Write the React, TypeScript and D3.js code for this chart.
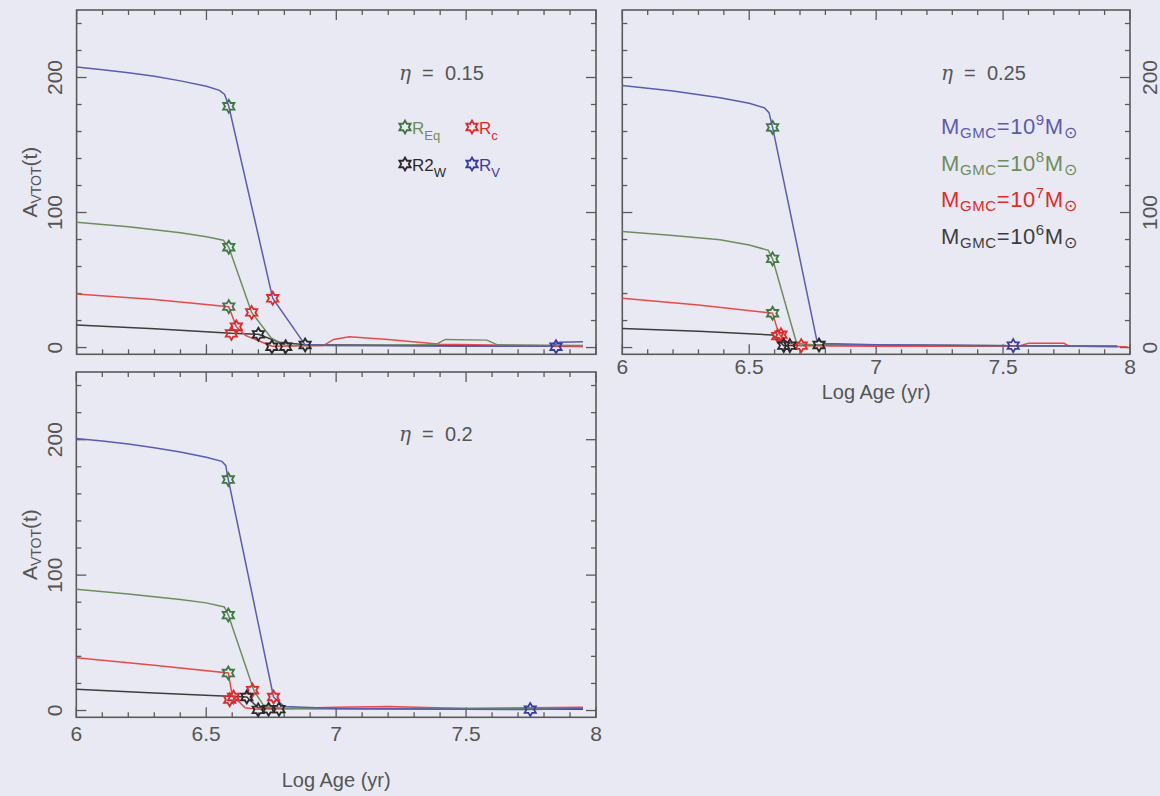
import React from "react";
import * as d3 from "d3";

type Pt = [number, number];

// eta = 0.15 (top left)
const eta15Blue: Pt[] = [[6.0, 207.7], [6.1, 205.8], [6.2, 203.6], [6.3, 201], [6.4, 197.5], [6.5, 193.5], [6.55, 190.5], [6.57, 187.5], [6.586, 178.7], [6.755, 36.5], [6.88, 2], [7.0, 1.5], [7.5, 1], [7.83, 1], [7.86, 4], [7.95, 4.3]];
const eta15Green: Pt[] = [[6.0, 92.8], [6.2, 89.5], [6.4, 85], [6.5, 82], [6.565, 79.5], [6.586, 74.3], [6.674, 26], [6.75, 7], [6.805, 1.5], [7.0, 1.5], [7.38, 2], [7.42, 6], [7.58, 5.5], [7.62, 2], [7.95, 1.5]];
const eta15Red: Pt[] = [[6.0, 39.7], [6.3, 35.5], [6.586, 30.3], [6.615, 15.4], [6.65, 9], [6.752, 1], [6.95, 1.5], [6.99, 6], [7.05, 8], [7.2, 6], [7.4, 2.5], [7.95, 1]];
const eta15Black: Pt[] = [[6.0, 16.7], [6.3, 14], [6.596, 10.5], [6.7, 9.8], [6.78, 4], [6.88, 2], [7.95, 0.8]];
const eta15Stars = {
  green: [[6.586, 178.7], [6.586, 74.3], [6.586, 30.3]] as Pt[],
  red: [[6.596, 10.5], [6.615, 15.4], [6.674, 26], [6.755, 36.5]] as Pt[],
  black: [[6.7, 9.8], [6.752, 0.6], [6.805, 0.6], [6.88, 1.9]] as Pt[],
  blue: [[7.846, 0.6]] as Pt[],
};

// eta = 0.25 (top right)
const eta25Blue: Pt[] = [[6.0, 194], [6.2, 190], [6.385, 185], [6.5, 181], [6.56, 177.5], [6.578, 174], [6.592, 163], [6.766, 5.6], [6.8, 3], [7.0, 2], [7.54, 1.4], [7.95, 1]];
const eta25Green: Pt[] = [[6.0, 86], [6.2, 83], [6.385, 79.8], [6.5, 76], [6.575, 72], [6.592, 65.7], [6.687, 3], [6.75, 2], [7.95, 1]];
const eta25Red: Pt[] = [[6.0, 36.5], [6.3, 31.5], [6.592, 25.4], [6.615, 11], [6.63, 7], [6.66, 3], [6.705, 1.4], [7.0, 1], [7.56, 1], [7.6, 3.2], [7.74, 3.2], [7.76, 1], [7.99, 0.5]];
const eta25Black: Pt[] = [[6.0, 14.2], [6.3, 12], [6.592, 9.3], [6.636, 1.4], [6.775, 1.9], [7.54, 1.4], [7.95, 0.8]];
const eta25Stars = {
  green: [[6.592, 163], [6.592, 65.7], [6.592, 25.4]] as Pt[],
  red: [[6.612, 8.5], [6.625, 9.5], [6.705, 1.4]] as Pt[],
  black: [[6.636, 1.4], [6.66, 1.4], [6.775, 1.9]] as Pt[],
  blue: [[7.54, 1.4]] as Pt[],
};

// eta = 0.2 (bottom left)
const eta20Blue: Pt[] = [[6.0, 200.9], [6.1, 199], [6.2, 196.8], [6.3, 194], [6.4, 191], [6.5, 187], [6.56, 184], [6.575, 181], [6.585, 170.6], [6.759, 10], [6.8, 3], [7.0, 1.5], [7.75, 0.7], [7.95, 1.5]];
const eta20Green: Pt[] = [[6.0, 89.6], [6.2, 86], [6.4, 82], [6.5, 79.5], [6.57, 76.5], [6.585, 70.5], [6.684, 14.4], [6.72, 4], [6.8, 1.5], [7.95, 1.5]];
const eta20Red: Pt[] = [[6.0, 39], [6.3, 33.5], [6.585, 27.7], [6.6, 11.2], [6.65, 2], [6.7, 1], [7.0, 2.5], [7.2, 3], [7.5, 1.5], [7.95, 2.5]];
const eta20Black: Pt[] = [[6.0, 15.7], [6.3, 13], [6.585, 10.5], [6.656, 10], [6.7, 2], [6.78, 1.5], [7.95, 1]];
const eta20Stars = {
  green: [[6.585, 170.6], [6.585, 70.5], [6.585, 27.7]] as Pt[],
  red: [[6.59, 8], [6.605, 10], [6.678, 15], [6.759, 10]] as Pt[],
  black: [[6.656, 10], [6.7, 0.5], [6.74, 1], [6.78, 1]] as Pt[],
  blue: [[7.747, 0.7]] as Pt[],
};

const xTicks = d3.range(60, 81).map((i) => i / 10);
const xTickLabels = ["6", "6.5", "7", "7.5", "8"];
const yTicks = d3.range(0, 241, 20);
const yTickLabels = ["0", "100", "200"];
const massLegend = ["9", "8", "7", "6"];

const LINE = { blue: "#5b5bb4", green: "#6f8c5e", red: "#e84a4a", black: "#3d3d3d" };
const STAR = { blue: "#3b3ba6", green: "#3d7842", red: "#e22a2a", black: "#2a2a2a" };
const AXIS = "#5a5a5a";
const FONT = "'Liberation Sans', Arial, sans-serif";

const starPath = (r: number) => {
  const pts = d3.range(12).map((i) => {
    const a = (i * Math.PI) / 6 - Math.PI / 2;
    const rr = i % 2 === 0 ? r : r * 0.58;
    return [Math.cos(a) * rr, Math.sin(a) * rr];
  });
  return "M" + pts.map((p) => p[0].toFixed(2) + "," + p[1].toFixed(2)).join("L") + "Z";
};
const STAR_D = starPath(6.5);

const Star = ({ x, y, color }: { x: number; y: number; color: string }) => (
  <path d={STAR_D} transform={`translate(${x},${y})`} fill="none" stroke={color} strokeWidth={1.8} />
);

type PanelProps = {
  left: number; right: number; top: number; bottom: number;
  lines: { blue: Pt[]; green: Pt[]; red: Pt[]; black: Pt[] };
  stars: { blue: Pt[]; green: Pt[]; red: Pt[]; black: Pt[] };
  eta: string; etaX: number; etaY: number;
  yRight?: boolean; xLabels?: boolean; labelY?: number; titleY?: number; yTitle?: boolean;
};

const Panel = (p: PanelProps) => {
  const x = d3.scaleLinear().domain([6, 8]).range([p.left, p.right]);
  const y = d3.scaleLinear().domain([-5, 250]).range([p.bottom, p.top]);
  const line = d3.line<Pt>().x((d) => x(d[0])).y((d) => y(d[1]));
  const order: ("black" | "red" | "green" | "blue")[] = ["black", "red", "green", "blue"];
  const cy = (p.top + p.bottom) / 2;
  return (
    <g>
      <rect x={p.left} y={p.top} width={p.right - p.left} height={p.bottom - p.top} fill="none" stroke={AXIS} strokeWidth={1.6} />
      {xTicks.map((t, i) => {
        const len = i % 5 === 0 ? 10 : 5;
        return (
          <g key={"xt" + i} stroke={AXIS} strokeWidth={1.3}>
            <line x1={x(t)} x2={x(t)} y1={p.bottom} y2={p.bottom - len} />
            <line x1={x(t)} x2={x(t)} y1={p.top} y2={p.top + len} />
          </g>
        );
      })}
      {yTicks.map((t) => {
        const len = t % 100 === 0 ? 10 : 5;
        return (
          <g key={"yt" + t} stroke={AXIS} strokeWidth={1.3}>
            <line x1={p.left} x2={p.left + len} y1={y(t)} y2={y(t)} />
            <line x1={p.right} x2={p.right - len} y1={y(t)} y2={y(t)} />
          </g>
        );
      })}
      {yTickLabels.map((s) => {
        const lx = p.yRight ? p.right + 27 : p.left - 14.5;
        return (
          <text key={"yl" + s} transform={`translate(${lx},${y(+s)}) rotate(-90)`} textAnchor="middle" fontSize={21} fill="#555" fontFamily={FONT}>
            {s}
          </text>
        );
      })}
      {p.yTitle && (
        <text transform={`translate(37,${cy}) rotate(-90)`} textAnchor="middle" fontSize={21} fill="#555" fontFamily={FONT}>
          A<tspan fontSize={14} dy={4}>VTOT</tspan><tspan dy={-4}>(t)</tspan>
        </text>
      )}
      {p.xLabels && (
        <g fontFamily={FONT} fill="#555">
          {xTickLabels.map((s) => (
            <text key={"xl" + s} x={x(+s)} y={p.labelY} textAnchor="middle" fontSize={21}>{s}</text>
          ))}
          <text x={(p.left + p.right) / 2} y={p.titleY} textAnchor="middle" fontSize={20}>Log Age (yr)</text>
        </g>
      )}
      {order.map((k) => (
        <path key={"l" + k} d={line(p.lines[k]) || ""} fill="none" stroke={LINE[k]} strokeWidth={1.5} />
      ))}
      {(["green", "red", "black", "blue"] as const).map((k) =>
        p.stars[k].map((d, i) => <Star key={k + i} x={x(d[0])} y={y(d[1])} color={STAR[k]} />)
      )}
      <text x={p.etaX} y={p.etaY} fontSize={20} fill="#555" fontFamily={FONT} xmlSpace="preserve">
        <tspan fontStyle="italic" fontFamily="'DejaVu Serif', serif">η</tspan>{"  =  " + p.eta}
      </text>
    </g>
  );
};

const App = () => {
  return (
    <div style={{ position: "fixed", left: 0, top: 0 }}>
      <svg width={1160} height={796} viewBox="0 0 1160 796" style={{ display: "block" }}>
        <rect width={1160} height={796} fill="#e9e9f3" />
        <Panel left={76.6} right={596} top={10} bottom={354.3} lines={{ blue: eta15Blue, green: eta15Green, red: eta15Red, black: eta15Black }} stars={eta15Stars} eta="0.15" etaX={399} etaY={80} yTitle />
        <Panel left={622.3} right={1130} top={10} bottom={354.3} lines={{ blue: eta25Blue, green: eta25Green, red: eta25Red, black: eta25Black }} stars={eta25Stars} eta="0.25" etaX={941} etaY={80} yRight xLabels labelY={374} titleY={399} />
        <Panel left={76.3} right={596} top={372} bottom={717.3} lines={{ blue: eta20Blue, green: eta20Green, red: eta20Red, black: eta20Black }} stars={eta20Stars} eta="0.2" etaX={399} etaY={441} yTitle xLabels labelY={741} titleY={787} />

        {/* series legend, eta = 0.15 panel */}
        <g fontFamily={FONT}>
          <Star x={405} y={127} color={STAR.green} />
          <text x={412} y={133.5} fontSize={17} fill={LINE.green}>R<tspan fontSize={13} dy={6}>Eq</tspan></text>
          <Star x={472} y={127} color={STAR.red} />
          <text x={479} y={133.5} fontSize={17} fill={STAR.red}>R<tspan fontSize={13} dy={6}>c</tspan></text>
          <Star x={405} y={164} color={STAR.black} />
          <text x={412} y={171} fontSize={17} fill={STAR.black}>R2<tspan fontSize={13} dy={6}>W</tspan></text>
          <Star x={472} y={164} color={STAR.blue} />
          <text x={479} y={171} fontSize={17} fill={STAR.blue}>R<tspan fontSize={13} dy={6}>V</tspan></text>
        </g>

        {/* mass legend, eta = 0.25 panel */}
        <g fontFamily={FONT}>
          {massLegend.map((m, i) => {
            const c = [LINE.blue, LINE.green, STAR.red, LINE.black][i];
            return (
              <text key={"m" + m} x={941} y={134 + i * 36.6} fontSize={22} fill={c} letterSpacing={0.6}>
                M<tspan fontSize={15} dy={4}>GMC</tspan>
                <tspan dy={-4}>=10</tspan>
                <tspan fontSize={15} dy={-9}>{m}</tspan>
                <tspan dy={9}>M</tspan>
                <tspan fontSize={16} dy={4}>⊙</tspan>
              </text>
            );
          })}
        </g>
      </svg>
    </div>
  );
};

export default App;
